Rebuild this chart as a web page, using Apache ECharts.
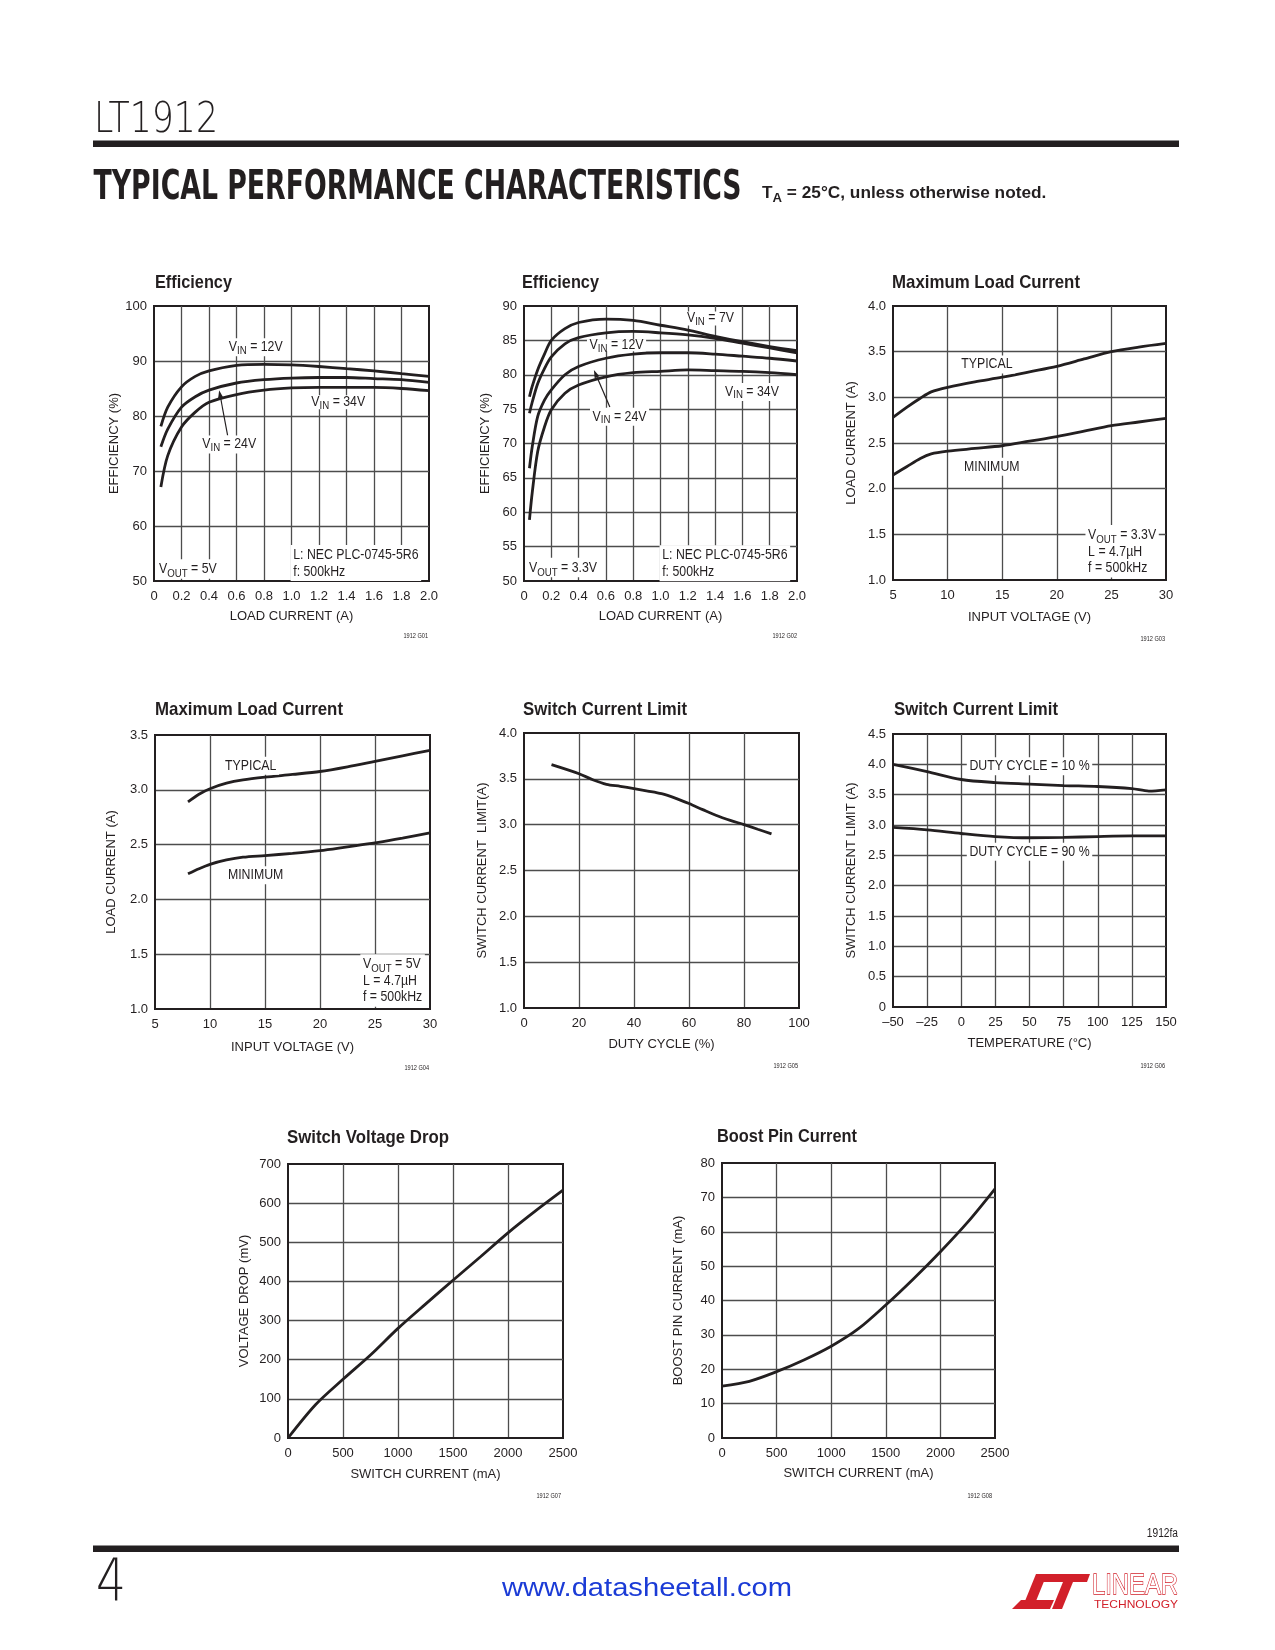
<!DOCTYPE html>
<html><head><meta charset="utf-8">
<script src="https://cdn.jsdelivr.net/npm/echarts@6/dist/echarts.min.js"></script>
<style>html,body{margin:0;padding:0;background:#fff}#c{width:1275px;height:1650px}</style>
</head><body><div id="c"></div>
<script>
// ---------- DATA ----------
const effLoad5 = [0.05, 0.1, 0.2, 0.3, 0.4, 0.6, 0.8, 1.0, 1.2, 1.4, 1.6, 1.8, 2.0];
const eff5Vin12 = [78.1, 81.6, 85.3, 87.2, 88.2, 89.2, 89.4, 89.3, 89.0, 88.6, 88.2, 87.7, 87.2];
const eff5Vin24 = [74.4, 77.6, 81.6, 83.5, 84.7, 86.0, 86.6, 86.9, 87.0, 87.0, 86.8, 86.6, 86.1];
const eff5Vin34 = [67.1, 72.8, 78.0, 80.7, 82.5, 83.9, 84.7, 85.1, 85.2, 85.2, 85.2, 85.0, 84.6];

const effLoad33 = [0.04, 0.06, 0.1, 0.15, 0.2, 0.3, 0.4, 0.6, 0.8, 1.0, 1.2, 1.4, 1.6, 1.8, 2.0];
const eff33Vin7  = [76.8, 78.3, 80.7, 83.0, 85.0, 86.7, 87.6, 88.1, 87.9, 87.2, 86.5, 85.6, 84.8, 84.1, 83.5];
const eff33Vin12 = [74.4, 76.0, 78.7, 80.9, 82.6, 84.5, 85.4, 86.1, 86.3, 86.1, 85.8, 85.3, 84.6, 83.9, 83.2];
const eff33Vin24 = [66.4, 69.5, 73.9, 76.3, 77.8, 80.0, 81.2, 82.4, 83.0, 83.2, 83.2, 83.0, 82.7, 82.4, 82.0];
const eff33Vin34 = [58.9, 62.8, 68.8, 72.4, 74.9, 77.3, 78.5, 79.7, 80.3, 80.5, 80.7, 80.6, 80.5, 80.3, 80.0];

const mlcVin33 = [5, 6.25, 7.5, 8.5, 10, 12.5, 15, 17.5, 20, 22.5, 25, 27.5, 30];
const mlc33Typ = [2.78, 2.89, 2.99, 3.06, 3.11, 3.17, 3.22, 3.28, 3.34, 3.42, 3.50, 3.55, 3.59];
const mlc33Min = [2.15, 2.24, 2.33, 2.38, 2.41, 2.44, 2.47, 2.52, 2.57, 2.63, 2.69, 2.73, 2.77];

const mlcVin5 = [8, 9, 10, 11.5, 13, 15, 17.5, 20, 22.5, 25, 27.5, 30];
const mlc5Typ = [2.89, 2.96, 3.01, 3.06, 3.09, 3.115, 3.14, 3.167, 3.21, 3.26, 3.31, 3.36];
const mlc5Min = [2.233, 2.28, 2.32, 2.36, 2.385, 2.40, 2.42, 2.445, 2.48, 2.515, 2.56, 2.606];

const dutyCycle = [10, 20, 25, 30, 35, 40, 45, 50, 55, 60, 65, 70, 75, 80, 85, 90];
const sclDuty   = [3.655, 3.556, 3.49, 3.44, 3.418, 3.393, 3.367, 3.338, 3.29, 3.23, 3.164, 3.10, 3.047, 3.0, 2.95, 2.90];

const tempC = [-50, -25, 0, 25, 50, 75, 100, 125, 137.5, 150];
const sclDc10 = [4.0, 3.88, 3.75, 3.70, 3.675, 3.65, 3.635, 3.60, 3.56, 3.58];
const sclDc90 = [2.96, 2.92, 2.86, 2.81, 2.79, 2.795, 2.81, 2.82, 2.82, 2.82];

const swCurrent = [0, 250, 500, 750, 1000, 1250, 1500, 1750, 2000, 2250, 2500];
const swVdrop   = [0, 85, 150, 212, 280, 342, 403, 463, 524, 580, 633];

const bstCurrent = [0, 250, 500, 750, 1000, 1250, 1500, 1750, 2000, 2250, 2500];
const bstPin     = [15.1, 16.5, 19.3, 22.7, 26.7, 31.8, 38.7, 46.2, 54.2, 62.8, 72.5];

const titles = ['Efficiency', 'Efficiency', 'Maximum Load Current', 'Maximum Load Current',
                'Switch Current Limit', 'Switch Current Limit', 'Switch Voltage Drop', 'Boost Pin Current'];
const figIds = ['1912 G01','1912 G02','1912 G03','1912 G04','1912 G05','1912 G06','1912 G07','1912 G08'];

// ---------- STYLE / LAYOUT ----------
const INK = '#231f20';
const CF = '"Liberation Sans",Arial,sans-serif';
const grids = [
  {left:154, top:306, width:275, height:275},
  {left:524, top:306, width:273, height:275},
  {left:893, top:306, width:273, height:274},
  {left:155, top:735, width:275, height:274},
  {left:524, top:733, width:275, height:275},
  {left:893, top:734, width:273, height:273},
  {left:288, top:1164, width:275, height:274},
  {left:722, top:1163, width:273, height:275}
];
const titlePos = [[155,283],[522,283],[892,283],[155,710],[523,709.5],[894,709.5],[287,1137.5],[717,1137]];
const titleW = [77, 77, 188, 188, 164, 164, 162, 140];
const figPos = [[428,636],[797,636],[1165,639],[429,1068],[798,1066],[1165,1066],[561,1496],[992,1496]];

const fInt = v => String(v);
const f1 = v => v === 0 ? '0' : v.toFixed(1);
const fT = v => v < 0 ? '\u2013' + Math.abs(v) : String(v);

const axSpec = [
  {x:[0,2,0.2,f1,'LOAD CURRENT (A)',29],     y:[50,100,10,fInt,'EFFICIENCY (%)',32]},
  {x:[0,2,0.2,f1,'LOAD CURRENT (A)',29],     y:[50,90,5,fInt,'EFFICIENCY (%)',32]},
  {x:[5,30,5,fInt,'INPUT VOLTAGE (V)',31],   y:[1,4,0.5,f1,'LOAD CURRENT (A)',35]},
  {x:[5,30,5,fInt,'INPUT VOLTAGE (V)',32],   y:[1,3.5,0.5,f1,'LOAD CURRENT (A)',37]},
  {x:[0,100,20,fInt,'DUTY CYCLE (%)',29.5],  y:[1,4,0.5,f1,'SWITCH CURRENT  LIMIT(A)',35]},
  {x:[-50,150,25,fT,'TEMPERATURE (\u00B0C)',30], y:[0,4.5,0.5,f1,'SWITCH CURRENT LIMIT (A)',35]},
  {x:[0,2500,500,fInt,'SWITCH CURRENT (mA)',30], y:[0,700,100,fInt,'VOLTAGE DROP (mV)',37]},
  {x:[0,2500,500,fInt,'SWITCH CURRENT (mA)',29], y:[0,80,10,fInt,'BOOST PIN CURRENT (mA)',37]}
];

function mkAxis(i, s, isY) {
  return {
    type:'value', gridIndex:i, min:s[0], max:s[1], interval:s[2],
    name:s[4], nameLocation:'middle', nameGap:s[5],
    nameTextStyle:{fontFamily:CF, fontSize:13, color:INK},
    axisLine:{show:true, onZero:false, lineStyle:{color:INK, width:2}},
    axisTick:{show:false},
    axisLabel:{fontFamily:CF, fontSize:13, color:INK, margin:isY?7:9, formatter:s[3], showMinLabel:true, showMaxLabel:true},
    splitLine:{show:true, showMinLine:false, showMaxLine:false, lineStyle:{color:'#4d4d4d', width:1.3}}
  };
}
const pair = (xs, ys) => xs.map((x, i) => [x, ys[i]]);
const curves = [
  [0, effLoad5, eff5Vin12], [0, effLoad5, eff5Vin24], [0, effLoad5, eff5Vin34],
  [1, effLoad33, eff33Vin7], [1, effLoad33, eff33Vin12], [1, effLoad33, eff33Vin24], [1, effLoad33, eff33Vin34],
  [2, mlcVin33, mlc33Typ], [2, mlcVin33, mlc33Min],
  [3, mlcVin5, mlc5Typ], [3, mlcVin5, mlc5Min],
  [4, dutyCycle, sclDuty],
  [5, tempC, sclDc10], [5, tempC, sclDc90],
  [6, swCurrent, swVdrop],
  [7, bstCurrent, bstPin]
];

const chart = echarts.init(document.getElementById('c'), null, {renderer:'canvas'});
chart.setOption({
  animation:false,
  backgroundColor:'#fff',
  grid: grids.map(g => Object.assign({show:true, borderColor:INK, borderWidth:2, backgroundColor:'transparent'}, g)),
  xAxis: axSpec.map((a, i) => mkAxis(i, a.x, false)),
  yAxis: axSpec.map((a, i) => mkAxis(i, a.y, true)),
  series: curves.map(c => ({
    type:'line', xAxisIndex:c[0], yAxisIndex:c[0], data:pair(c[1], c[2]),
    showSymbol:false, symbol:'none', smooth:0.3,
    lineStyle:{color:INK, width:2.8}, z:3
  }))
});

// ---------- TEXT / ANNOTATIONS ----------
const ctx = document.createElement('canvas').getContext('2d');
function fit(text, font, target) { ctx.font = font; return target / ctx.measureText(text).width; }

const LH = 16.5;
const richBox = {
  a:{fontFamily:CF, fontSize:14, lineHeight:LH, fill:INK, color:INK},
  s:{fontFamily:CF, fontSize:11, lineHeight:6, padding:[9.5,0,0,0], fill:INK, color:INK}
};
const richLbl = {
  a:{fontFamily:CF, fontSize:14, lineHeight:12, fill:INK, color:INK},
  s:{fontFamily:CF, fontSize:11, lineHeight:5, padding:[7,0,0,0], fill:INK, color:INK}
};
const sub = (m, s, r) => '{a|' + m + '}{s|' + s + '}{a|' + r + '}';
const plain = t => '{a|' + t + '}';
const ASX = 0.88;

// anchor: 'c' = center of text at (x,y); 'l' = left edge, first line centred at y
const ann = [
  {g:0, x:0.74,  y:92.5, t:sub('V','IN',' = 12V'), k:'c'},
  {g:0, x:1.34,  y:82.5, t:sub('V','IN',' = 34V'), k:'c', p:[1,3,1,3]},
  {g:0, x:0.547, y:74.8, t:sub('V','IN',' = 24V'), k:'c'},
  {g:0, x:0.039, y:52.1, t:sub('V','OUT',' = 5V'), k:'l'},
  {g:0, x:1.015, y:54.7, t:plain('L: NEC PLC-0745-5R6') + '\n' + plain('f: 500kHz'), k:'l'},
  {g:1, x:1.366, y:88.2, t:sub('V','IN',' = 7V'), k:'c', p:[1,3,1,3]},
  {g:1, x:0.678, y:84.3, t:sub('V','IN',' = 12V'), k:'c', p:[0,3,0,3]},
  {g:1, x:0.70,  y:73.9, t:sub('V','IN',' = 24V'), k:'c'},
  {g:1, x:1.67,  y:77.5, t:sub('V','IN',' = 34V'), k:'c'},
  {g:1, x:0.039, y:51.9, t:sub('V','OUT',' = 3.3V'), k:'l'},
  {g:1, x:1.015, y:53.7, t:plain('L: NEC PLC-0745-5R6') + '\n' + plain('f: 500kHz'), k:'l'},
  {g:2, x:13.6,  y:3.36, t:plain('TYPICAL'), k:'c'},
  {g:2, x:14.05, y:2.24, t:plain('MINIMUM'), k:'c'},
  {g:2, x:22.9,  y:1.49, t:sub('V','OUT',' = 3.3V') + '\n' + plain('L = 4.7\u00B5H') + '\n' + plain('f = 500kHz'), k:'l'},
  {g:3, x:13.7,  y:3.22, t:plain('TYPICAL'), k:'c'},
  {g:3, x:14.15, y:2.22, t:plain('MINIMUM'), k:'c'},
  {g:3, x:23.94, y:1.406, t:sub('V','OUT',' = 5V') + '\n' + plain('L = 4.7\u00B5H') + '\n' + plain('f = 500kHz'), k:'l'},
  {g:5, x:50, y:3.97, t:plain('DUTY CYCLE = 10 %'), k:'c'},
  {g:5, x:50, y:2.56, t:plain('DUTY CYCLE = 90 %'), k:'c'}
];
const arrows = [
  {g:0, from:[0.535, 76.5], to:[0.474, 84.7]},
  {g:1, from:[0.629, 75.3], to:[0.512, 80.7]}
];

const els = [];
const px = (g, p) => chart.convertToPixel({xAxisIndex:g, yAxisIndex:g}, p);
const PAD = [2, 3, 1, 3];
ann.forEach(a => {
  const p = px(a.g, [a.x, a.y]);
  let x = p[0], y = p[1], align = 'center', va = 'middle', r = richLbl, pad = a.p || [3, 3, 3, 3];
  if (a.k === 'l') { r = richBox; pad = PAD; x -= PAD[3]; y = y - LH / 2 - PAD[0]; align = 'left'; va = 'top'; }
  els.push({type:'text', x:x, y:y, scaleX:ASX, z:100, style:{text:a.t, rich:r, align:align, verticalAlign:va,
    backgroundColor:'#fff', padding:pad, fill:INK}});
});
arrows.forEach(a => {
  const f = px(a.g, a.from), t = px(a.g, a.to);
  const dx = t[0]-f[0], dy = t[1]-f[1], L = Math.hypot(dx, dy), ux = dx/L, uy = dy/L;
  const bx = t[0] - ux*8, by = t[1] - uy*8;
  els.push({type:'line', z:101, shape:{x1:f[0], y1:f[1], x2:bx, y2:by}, style:{stroke:INK, lineWidth:1.2}});
  els.push({type:'polygon', z:101, shape:{points:[[t[0],t[1]],[bx - uy*2.6, by + ux*2.6],[bx + uy*2.6, by - ux*2.6]]}, style:{fill:INK}});
});
const fTitle = 'bold 19px "Liberation Sans"';
titles.forEach((t, i) => {
  els.push({type:'text', x:titlePos[i][0], y:titlePos[i][1], scaleX:fit(t, fTitle, titleW[i]), z:100,
    style:{text:t, font:fTitle, fill:INK, align:'left', verticalAlign:'middle'}});
});
figIds.forEach((t, i) => {
  els.push({type:'text', x:figPos[i][0], y:figPos[i][1], scaleX:0.8, z:100,
    style:{text:t, fontFamily:CF, fontSize:7, fill:INK, align:'right', verticalAlign:'middle'}});
});

// header
const fLT = '200 43px "DejaVu Sans"';
els.push({type:'text', x:94, y:121, scaleX:fit('LT1912', fLT, 124), z:100,
  style:{text:'LT1912', font:fLT, fill:INK, verticalAlign:'middle'}});
els.push({type:'rect', z:100, shape:{x:93, y:140.5, width:1086, height:6.5}, style:{fill:INK}});
const fTPC = 'bold 41px "DejaVu Sans"';
const tpc = 'TYPICAL PERFORMANCE CHARACTERISTICS';
els.push({type:'text', x:93.5, y:188, scaleX:fit(tpc, fTPC, 648), z:100,
  style:{text:tpc, font:fTPC, fill:INK, verticalAlign:'middle'}});
const fTA = 'bold 17px "Liberation Sans"';
els.push({type:'text', x:762, y:193, scaleX:fit('TA = 25\u00B0C, unless otherwise noted.', fTA, 286), z:100,
  style:{text:'{m|T}{s|A}{m| = 25\u00B0C, unless otherwise noted.}', verticalAlign:'middle',
    rich:{m:{fontFamily:CF, fontWeight:'bold', fontSize:17, lineHeight:17, fill:INK, color:INK},
          s:{fontFamily:CF, fontWeight:'bold', fontSize:13, lineHeight:7, padding:[11,0,0,0], fill:INK, color:INK}}}});

// footer
els.push({type:'text', x:1178, y:1534, scaleX:0.85, z:100, style:{text:'1912fa', fontFamily:CF, fontSize:12, fill:INK, align:'right', verticalAlign:'middle'}});
els.push({type:'rect', z:100, shape:{x:93, y:1545.5, width:1086, height:6.5}, style:{fill:INK}});
const f4 = '200 58px "DejaVu Sans"';
els.push({type:'text', x:96, y:1585, scaleX:fit('4', f4, 30), z:100, style:{text:'4', font:f4, fill:INK, verticalAlign:'middle'}});
const fW = '26px "Liberation Sans"';
const www = 'www.datasheetall.com';
els.push({type:'text', x:502, y:1589, scaleX:fit(www, fW, 290), z:100, style:{text:www, font:fW, fill:'#1b3bd6', verticalAlign:'middle'}});
// logo
const RED = '#d2202a';
els.push({type:'polygon', z:100, shape:{points:[[1036,1574],[1047,1574],[1036,1601],[1025,1601]]}, style:{fill:RED}});
els.push({type:'polygon', z:100, shape:{points:[[1012,1609],[1021,1600],[1054,1600],[1050,1609]]}, style:{fill:RED}});
els.push({type:'polygon', z:100, shape:{points:[[1046,1574],[1090,1574],[1087,1582],[1043,1582]]}, style:{fill:RED}});
els.push({type:'polygon', z:100, shape:{points:[[1063,1582],[1073,1582],[1062,1609],[1052,1609]]}, style:{fill:RED}});
const fLin = '30px "Liberation Sans"';
els.push({type:'text', x:1092, y:1586, scaleX:fit('LINEAR', fLin, 86), z:100, style:{text:'LINEAR', font:fLin, fill:'#fff', stroke:RED, lineWidth:1.3, verticalAlign:'middle'}});
const fTec = '11px "Liberation Sans"';
els.push({type:'text', x:1094, y:1605, scaleX:fit('TECHNOLOGY', fTec, 84), z:100, style:{text:'TECHNOLOGY', font:fTec, fill:RED, verticalAlign:'middle'}});

chart.setOption({graphic:{elements:els}});
</script>
</body></html>
